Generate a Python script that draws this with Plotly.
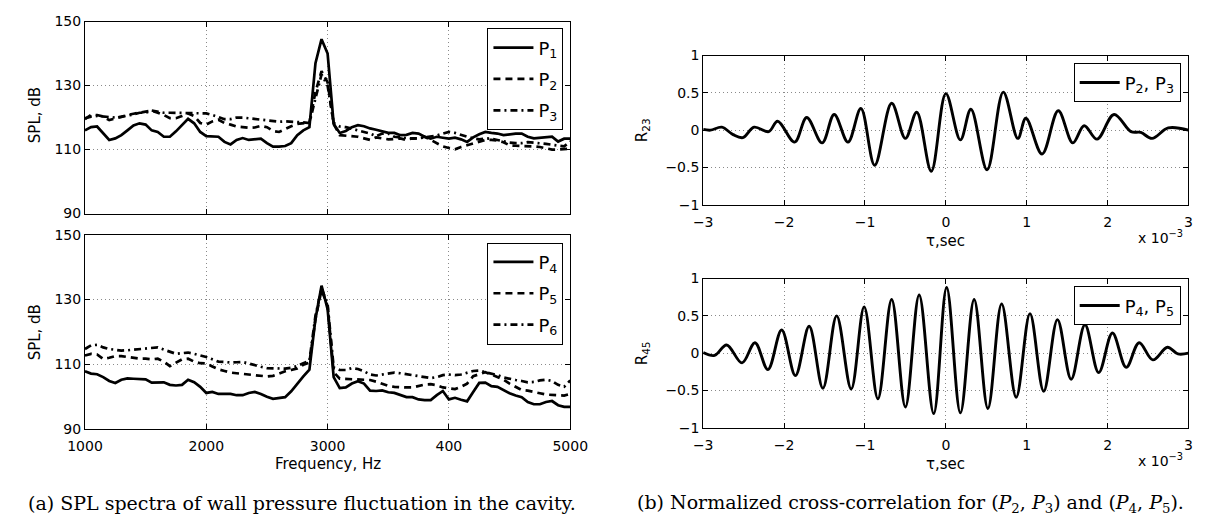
import plotly.graph_objects as go

# ---------------- data ----------------
freq = list(range(1000, 5001, 50))  # Hz, 81 samples

P1 = [116, 117, 117.2, 115, 113, 113.5, 114.5, 116, 117.5, 118.2, 117.8, 116, 115.5, 114, 114, 115.7, 117.5, 119.6, 118.2, 115.5, 114.2,
      114.1, 114.0, 112.4, 111.6, 113, 113.6, 113, 113.3, 113.4, 112, 110.9, 110.9, 111.1, 112, 114.5, 116, 117, 137, 144.5, 140,
      118, 115.2, 115.8, 117, 117.6, 117.3, 116.6, 116.2, 115.6, 115.2, 115.2, 114.5, 114.6, 115.2, 115, 114, 113.4, 114, 113.7, 113.4,
      113.7, 113.2, 112.4, 113.8, 114.8, 115.5, 115.2, 115, 114.5, 114.8, 115, 115, 114, 113.5, 113.6, 113.8, 114, 112.5, 113.4, 113.4]
P2 = [119.5, 120.8, 120.8, 120.3, 119.2, 119.8, 120.3, 120.8, 121.2, 121.5, 121.8, 122.2, 121.5, 120.8, 119.8, 119.8, 120.5, 121.3, 120.5, 118.3, 117.8,
      118.8, 119.3, 118.3, 117.8, 117.2, 117.0, 116.8, 116.9, 117.4, 117.0, 115.8, 115.5, 116.5, 117.3, 118, 118.3, 118.5, 128, 134.5, 131,
      118, 114.5, 114.4, 114.3, 114, 113.5, 113, 113.8, 113.5, 113.2, 113.3, 113.5, 113, 113.5, 113.5, 114, 113, 112, 111, 110.5,
      110.1, 110.8, 111.4, 112, 112.5, 113, 113, 112.8, 112.3, 111.3, 111.2, 111.2, 111.1, 111, 110.8, 110.3, 110, 110, 110.1, 110.3]
P3 = [119.8, 120.3, 120.5, 120.3, 120, 120, 120.2, 120.5, 121, 121.5, 121.5, 122.2, 121.9, 121.5, 121.5, 121.5, 121.5, 121.5, 121.5, 121.5, 121.3,
      120.8, 120.2, 119.5, 119.5, 120, 120, 119.8, 119.5, 119.2, 119, 118.9, 118.7, 118.8, 118.8, 118.6, 118.5, 118.3, 126, 133.5, 130,
      118.3, 117.2, 117, 116.5, 116, 115.5, 115, 114.2, 115, 115, 114, 113.8, 113.5, 113.4, 113.5, 113.8, 114.2, 114.4, 115, 115.5,
      115.2, 114.5, 114, 113.5, 113.2, 113.5, 113.4, 113, 112.5, 112.2, 112, 112, 112.3, 112.2, 112, 111.8, 111.5, 111.2, 111, 112.5]
P4 = [107.8, 107.1, 106.9, 106, 104.8, 104.2, 105.2, 105.6, 105.5, 105.4, 105.3, 104.3, 104.3, 104.4, 103.6, 103.4, 103.6, 105.2, 104.4, 103, 101.1,
      101.4, 100.8, 100.7, 100.8, 100.4, 100.4, 101.1, 101.4, 100.8, 99.9, 99.3, 99.6, 99.8, 101.6, 104, 106.2, 108.3, 124, 134.3, 127,
      106, 102.6, 102.8, 104, 104.7, 104, 101.8, 101.7, 101.9, 101.3, 101.1, 100.5, 99.8, 99.8, 99.1, 98.9, 98.9, 100.4, 101.7, 99.1,
      99.6, 99, 98.5, 101.4, 104.2, 104.3, 103.2, 103, 101.9, 101, 100.3, 99.8, 98.3, 97.6, 97.6, 98.3, 98.6, 97.3, 96.8, 96.8]
P5 = [112.7, 113.2, 113, 111.6, 112, 112.5, 112.5, 112.2, 111.8, 111.7, 111.7, 111.5, 111.7, 110.8, 109.4, 110.5, 111.5, 111.7, 110.8, 110.3, 110.2,
      109.3, 108.4, 107.9, 107.4, 107.2, 107, 106.8, 106.7, 106.5, 106.2, 106.4, 107.2, 107.8, 108.2, 108.7, 109.8, 110.5, 124, 133, 128,
      107.5, 105.5, 105.4, 105.4, 105.3, 105.3, 105.1, 104.6, 104, 103.3, 103, 102.8, 102.8, 102.8, 103.2, 103.7, 103.8, 103.5, 102.8, 102.6,
      102.3, 103, 104, 106.3, 107, 107.5, 106.8, 106, 105.2, 104, 103, 102, 101.8, 101.5, 101, 100.6, 100.5, 100.4, 100.3, 100.8]
P6 = [114.7, 115.8, 116, 115.2, 114.7, 114.4, 114.2, 114.3, 114.5, 114.7, 114.9, 115.2, 115.2, 114.5, 113.8, 113.2, 113.4, 113.6, 113.2, 112.8, 112.2,
      111.5, 110.8, 110.7, 110.5, 110.6, 110.7, 110.2, 109.6, 109.2, 108.8, 108.7, 108.5, 108.6, 108.9, 109.4, 110.3, 111, 125, 133.5, 128.5,
      109, 108.2, 108.2, 108.8, 108.5, 107.8, 106.8, 106.5, 106.8, 107.3, 107.4, 107.2, 106.9, 106.6, 106.3, 105.9, 105.7, 106, 106.6, 106.8,
      106.6, 106.8, 107.4, 107.9, 108, 107.6, 107.1, 106.6, 105.9, 105.4, 105.1, 104.8, 104.4, 104.5, 105, 105.2, 104.8, 103.6, 103, 105]

# cross-correlation, tau in units of 1e-3 s (extrema)
tau23 = [-3.0, -2.91, -2.77, -2.63, -2.51, -2.37, -2.19, -2.08, -1.87, -1.72, -1.53, -1.38, -1.21, -1.05, -0.88, -0.67, -0.50, -0.36, -0.18,
         0.0, 0.18, 0.31, 0.51, 0.71, 0.89, 0.99, 1.19, 1.39, 1.57, 1.71, 1.87, 2.08, 2.29, 2.41, 2.55, 2.75, 3.0]
R23 = [0.01, 0.0, 0.04, -0.06, -0.10, 0.04, -0.02, 0.12, -0.16, 0.17, -0.17, 0.21, -0.16, 0.29, -0.47, 0.36, -0.11, 0.24, -0.55,
       0.49, -0.13, 0.28, -0.53, 0.51, -0.11, 0.16, -0.32, 0.26, -0.17, 0.06, -0.12, 0.21, -0.02, -0.03, -0.11, 0.03, 0.0]
tau45 = [-3.0, -2.86, -2.71, -2.52, -2.36, -2.2, -2.03, -1.86, -1.69, -1.52, -1.35, -1.17, -1.01, -0.84, -0.67, -0.50, -0.33, -0.15,
         0.01, 0.18, 0.35, 0.52, 0.69, 0.87, 1.04, 1.21, 1.38, 1.55, 1.72, 1.89, 2.06, 2.23, 2.39, 2.56, 2.74, 2.87, 3.0]
R45 = [0.01, -0.03, 0.11, -0.13, 0.14, -0.22, 0.31, -0.30, 0.36, -0.47, 0.50, -0.48, 0.62, -0.61, 0.72, -0.72, 0.78, -0.81,
       0.88, -0.80, 0.72, -0.74, 0.66, -0.59, 0.53, -0.51, 0.45, -0.35, 0.38, -0.26, 0.27, -0.19, 0.14, -0.09, 0.08, -0.01, 0.0]

freq_ticks = [1000, 2000, 3000, 4000, 5000]
freq_ticktext = ["1000", "2000", "3000", "400", "5000"]
spl_ticks = [90, 110, 130, 150]
tau_ticks = [-3, -2, -1, 0, 1, 2, 3]
tau_ticktext = ["\u22123", "\u22122", "\u22121", "0", "1", "2", "3"]
r_ticks = [-1, -0.5, 0, 0.5, 1]
r_ticktext = ["\u22121", "\u22120.5", "0", "0.5", "1"]

# ---------------- figure ----------------
W, H = 1222, 527
def px_x(x): return x / W
def px_y(y): return 1 - y / H

LW = 2.7
styles = [("solid", "P<sub>1</sub>"), ("7px,5px", "P<sub>2</sub>"), ("7px,4px,2px,4px", "P<sub>3</sub>")]
styles2 = [("solid", "P<sub>4</sub>"), ("7px,5px", "P<sub>5</sub>"), ("7px,4px,2px,4px", "P<sub>6</sub>")]

fig = go.Figure()
for (dash, name), ys in zip(styles, [P1, P2, P3]):
    fig.add_trace(go.Scatter(x=freq, y=ys, mode="lines", name=name, line=dict(color="black", width=LW, dash=dash),
                             xaxis="x", yaxis="y", legend="legend", legendgroup=name))
for (dash, name), ys in zip(styles2, [P4, P5, P6]):
    fig.add_trace(go.Scatter(x=freq, y=ys, mode="lines", name=name, line=dict(color="black", width=LW, dash=dash),
                             xaxis="x2", yaxis="y2", legend="legend2", legendgroup=name))
fig.add_trace(go.Scatter(x=tau23, y=R23, mode="lines", name="P<sub>2</sub>, P<sub>3</sub>",
                         line=dict(color="black", width=2.9, shape="spline", smoothing=1.0),
                         xaxis="x3", yaxis="y3", legend="legend3"))
fig.add_trace(go.Scatter(x=tau45, y=R45, mode="lines", name="P<sub>4</sub>, P<sub>5</sub>",
                         line=dict(color="black", width=2.9, shape="spline", smoothing=1.0),
                         xaxis="x4", yaxis="y4", legend="legend4"))

tickfont = dict(family="DejaVu Sans", size=14, color="black")
base = dict(showline=True, linecolor="black", linewidth=1, mirror="ticks", ticks="inside", ticklen=5,
            tickcolor="black", showgrid=True, gridcolor="#8a8a8a", griddash="1px,3px", gridwidth=1,
            zeroline=False, tickfont=tickfont)

L0, L1 = px_x(69), px_x(569)
R0, R1 = px_x(706), px_x(1206)

fig.update_layout(
    width=W, height=H, margin=dict(l=0, r=0, t=0, b=0),
    paper_bgcolor="white", plot_bgcolor="white",
    xaxis=dict(base, domain=[L0, L1], anchor="y", range=[1000, 5000], tickvals=freq_ticks, showticklabels=False),
    yaxis=dict(base, domain=[px_y(212), px_y(14)], anchor="x", range=[90, 150], tickvals=spl_ticks),
    xaxis2=dict(base, domain=[L0, L1], anchor="y2", range=[1000, 5000], tickvals=freq_ticks, ticktext=freq_ticktext,
                ticklabelstandoff=4),
    yaxis2=dict(base, domain=[px_y(434), px_y(234)], anchor="x2", range=[90, 150], tickvals=spl_ticks),
    xaxis3=dict(base, domain=[R0, R1], anchor="y3", range=[-3, 3], tickvals=tau_ticks, ticktext=tau_ticktext,
                ticklabelstandoff=4),
    yaxis3=dict(base, domain=[px_y(203), px_y(49)], anchor="x3", range=[-1, 1], tickvals=r_ticks, ticktext=r_ticktext),
    xaxis4=dict(base, domain=[R0, R1], anchor="y4", range=[-3, 3], tickvals=tau_ticks, ticktext=tau_ticktext,
                ticklabelstandoff=4),
    yaxis4=dict(base, domain=[px_y(433), px_y(279)], anchor="x4", range=[-1, 1], tickvals=r_ticks, ticktext=r_ticktext),
)

legend_base = dict(bgcolor="white", bordercolor="black", borderwidth=1, xanchor="right", yanchor="top",
                   font=dict(family="DejaVu Sans", size=18, color="black"), tracegroupgap=5, itemwidth=40)
fig.update_layout(
    legend=dict(legend_base, x=px_x(562), y=px_y(21)),
    legend2=dict(legend_base, x=px_x(562), y=px_y(242)),
    legend3=dict(legend_base, x=px_x(1198), y=px_y(57)),
    legend4=dict(legend_base, x=px_x(1198), y=px_y(287)),
)

lab = dict(family="DejaVu Sans", size=15, color="black")
ann = []
def A(text, x, y, font=lab, angle=0, **kw):
    ann.append(dict(text=text, x=px_x(x), y=px_y(y), xref="paper", yref="paper", showarrow=False,
                    font=font, textangle=angle, xanchor="center", yanchor="middle", **kw))
A("SPL, dB", 17, 110, angle=-90)
A("SPL, dB", 17, 334, angle=-90)
A("Frequency, Hz", 319, 470)
A("R<sub>23</sub>", 643, 126, angle=-90)
A("R<sub>45</sub>", 643, 356, angle=-90)
A("\u03c4,sec", 956, 240)
A("\u03c4,sec", 956, 470)
A("x 10<sup>\u22123</sup>", 1177, 236, font=dict(family="DejaVu Sans", size=14, color="black"))
A("x 10<sup>\u22123</sup>", 1177, 466, font=dict(family="DejaVu Sans", size=14, color="black"))
cap = dict(family="DejaVu Serif", size=19, color="black")
A("(a) SPL spectra of wall pressure fluctuation in the cavity.", 293, 511, font=cap)
A("(b) Normalized cross-correlation for (<i>P</i><sub>2</sub>, <i>P</i><sub>3</sub>) and (<i>P</i><sub>4</sub>, <i>P</i><sub>5</sub>).",
  920, 511, font=cap)
fig.update_layout(annotations=ann)

fig.write_html("out.html")
